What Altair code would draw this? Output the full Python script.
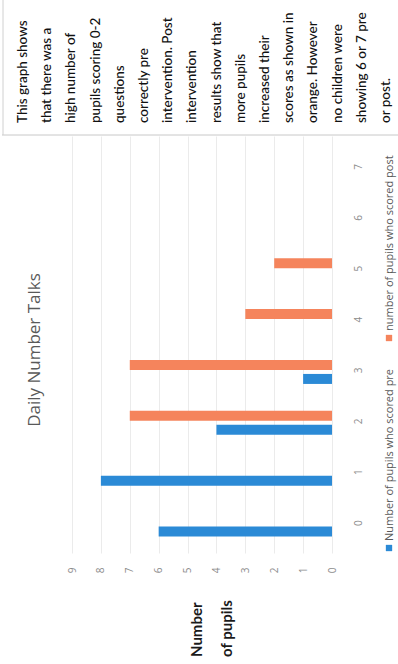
import altair as alt
import pandas as pd

# ---- data ----
scores = [0, 1, 2, 3, 4, 5, 6, 7]
pre_counts = [6, 8, 4, 1, 0, 0, 0, 0]
post_counts = [0, 0, 7, 7, 3, 2, 0, 0]
count_ticks = [0, 1, 2, 3, 4, 5, 6, 7, 8, 9]
series_names = ["Number of pupils who scored pre", "number of pupils who scored post"]
title_text = "Daily Number Talks"
axis_title_lines = ["Number", "of pupils"]
note_lines = [
    "This graph shows", "that there was a", "high number of", "pupils scoring 0-2",
    "questions", "correctly pre", "intervention. Post", "intervention",
    "results show that", "more pupils", "increased their", "scores as shown in",
    "orange. However", "no children were", "showing 6 or 7 pre", "or post.",
]

# ---- style / layout ----
BLUE, ORANGE = "#2b8ad6", "#f5845c"
PW, PH = 260, 417
PAD = {"left": 72, "top": 136, "right": 66, "bottom": 111}
TICK_GRAY = "#8c8c8c"

bars_df = pd.DataFrame({
    "score": scores * 2,
    "series": [series_names[0]] * len(scores) + [series_names[1]] * len(scores),
    "count": pre_counts + post_counts,
})

color = alt.Color("series:N", scale=alt.Scale(domain=series_names, range=[BLUE, ORANGE]), legend=None)

x_enc = alt.X(
    "count:Q",
    scale=alt.Scale(domain=[0, 9], reverse=True, nice=False),
    axis=alt.Axis(values=count_ticks, title=None, orient="bottom", labelAngle=270,
                  labelAlign="center", labelBaseline="middle", labelPadding=17,
                  ticks=False, tickSize=0, domain=False, grid=True, gridColor="#ebebeb",
                  labelColor=TICK_GRAY, labelFontSize=10, labelFont="Open Sans"),
)
y_enc = alt.Y(
    "score:Q",
    scale=alt.Scale(domain=[-0.5, 7.5], nice=False, zero=False),
    axis=alt.Axis(values=scores, title=None, orient="right", labelAngle=270,
                  labelAlign="center", labelBaseline="middle", labelPadding=26,
                  ticks=False, tickSize=0, domain=False, grid=False,
                  labelColor=TICK_GRAY, labelFontSize=10, labelFont="Open Sans"),
)

base = alt.Chart(bars_df)
pre_bars = base.transform_filter(alt.datum.series == series_names[0]).mark_bar(
    orient="horizontal", size=10, yOffset=9).encode(x=x_enc, y=y_enc, color=color)
post_bars = base.transform_filter(alt.datum.series == series_names[1]).mark_bar(
    orient="horizontal", size=10, yOffset=-5).encode(x=x_enc, y=y_enc, color=color)

dummy = pd.DataFrame({"a": [0]})

# chart title (rotated like the photographed page)
title_layer = alt.Chart(pd.DataFrame({"t": [title_text]})).mark_text(
    angle=270, align="center", baseline="middle", fontSize=17, font="Open Sans",
    color="#595959").encode(x=alt.value(35 - PAD["left"]), y=alt.value(350 - PAD["top"]), text="t:N")

# axis title "Number of pupils"
ax_df = pd.DataFrame({"t": axis_title_lines, "i": list(range(len(axis_title_lines)))})
ax_title = alt.Chart(ax_df).transform_calculate(px=f"{197 - PAD['left']} + 30*datum.i").mark_text(
    angle=270, align="left", baseline="middle", fontSize=15, font="Lato", fontWeight="bold",
    color="#1a1a1a").encode(x=alt.X("px:Q", scale=None), y=alt.value(657 - PAD["top"]), text="t:N")

# note box text
note_df = pd.DataFrame({"t": note_lines, "i": list(range(len(note_lines)))})
notes = alt.Chart(note_df).transform_calculate(px=f"{23 - PAD['left']} + 24.2*datum.i").mark_text(
    angle=270, align="left", baseline="middle", fontSize=13.5, font="Lato", fontWeight=500,
    color="#111111").encode(x=alt.X("px:Q", scale=None), y=alt.value(123 - PAD["top"]), text="t:N")

box_bottom = alt.Chart(dummy).mark_rule(color="#c8c8c8", strokeWidth=1).encode(
    x=alt.value(2 - PAD["left"]), x2=alt.value(398 - PAD["left"]), y=alt.value(135 - PAD["top"]))
box_left = alt.Chart(dummy).mark_rule(color="#d0d0d0", strokeWidth=1).encode(
    x=alt.value(3 - PAD["left"]), y=alt.value(0 - PAD["top"]), y2=alt.value(135 - PAD["top"]))

# manual rotated legend
leg_df = pd.DataFrame({"series": series_names, "i": [0, 1]})
leg_sq = alt.Chart(leg_df).transform_calculate(py=f"{548 - PAD['top']} - 210*datum.i").mark_square(
    size=40, opacity=1).encode(x=alt.value(389 - PAD["left"]), y=alt.Y("py:Q", scale=None), color=color)
leg_tx = alt.Chart(leg_df).transform_calculate(py=f"{541 - PAD['top']} - 210*datum.i").mark_text(
    angle=270, align="left", baseline="middle", fontSize=11, font="Open Sans", color="#595959").encode(
    x=alt.value(390 - PAD["left"]), y=alt.Y("py:Q", scale=None), text="series:N")

chart = alt.layer(
    pre_bars, post_bars, title_layer, ax_title, notes, box_bottom, box_left, leg_sq, leg_tx
).properties(
    width=PW, height=PH, padding=PAD, autosize=alt.AutoSizeParams(type="none"), background="white"
).configure_view(stroke=None)

chart.save("out.html", embed_options={"renderer": "svg", "actions": False})
